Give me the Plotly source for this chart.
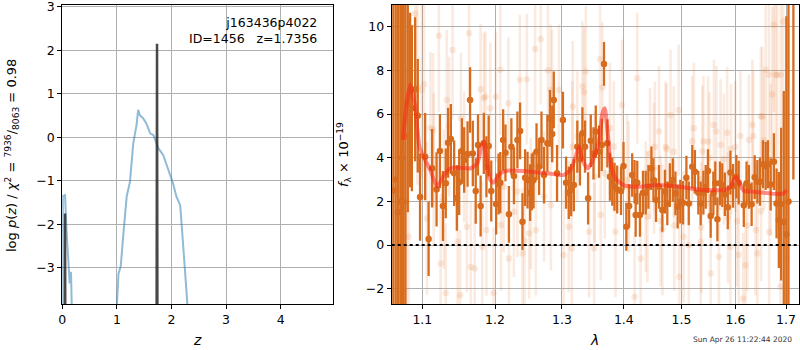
import plotly.graph_objects as go
import math

# ---------------- Left panel: log p(z) ----------------
pz_z = [0.0, 0.01, 0.05, 0.06, 0.08, 0.11, 0.12, 0.135, 0.14, 0.16, 0.18, None,
        0.995, 1.0, 1.03, 1.07, 1.12, 1.18, 1.24, 1.30, 1.36, 1.39, 1.42, 1.48, 1.54,
        1.61, 1.67, 1.70, 1.76, 1.85, 1.91, 1.97, 2.03, 2.09, 2.16, 2.19, 2.25, 2.31, 2.33]
pz_logp = [-5.0, -1.35, -1.33, -1.75, -2.2, -2.82, -3.13, -3.36, -3.1, -3.12, -4.3, None,
           -4.5, -3.85, -3.13, -2.97, -2.2, -1.36, -1.02, -0.14, 0.28, 0.63, 0.51, 0.44, 0.32,
           0.09, 0.05, -0.06, -0.25, -0.41, -0.64, -0.83, -1.06, -1.36, -1.56, -2.05, -2.97, -3.83, -4.5]

pzfine_z = [0.045, 0.05, 0.055, None, 1.728, 1.7356, 1.743]
pzfine_logp = [-4.5, -1.75, -4.5, None, -4.5, 2.15, -4.5]

zticks = [0, 1, 2, 3, 4]
logp_ticks = [-3, -2, -1, 0, 1, 2, 3]

# ---------------- Right panel: spectrum ----------------
dark_wave = [1.0625, 1.0655, 1.0685, 1.0715, 1.0735, 1.0755, 1.0780, 1.0810, 1.0840, 1.0863,
             1.0906, 1.0940, 1.0970, 1.1037, 1.1083, 1.1130, 1.1189, 1.1234, 1.1275, 1.1313,
             1.1344, 1.1382, 1.1427, 1.1464, 1.1496, 1.1533, 1.1565, 1.1612, 1.1647, 1.1685,
             1.1726, 1.1758, 1.1795, 1.1840, 1.1877, 1.1909, 1.1946, 1.2016, 1.2051, 1.2076,
             1.2117, 1.2151, 1.2201, 1.2237, 1.2275, 1.2326, 1.2365, 1.2401, 1.2440, 1.2476,
             1.2515, 1.2540, 1.2566, 1.2611, 1.2650, 1.2686, 1.2725, 1.2776, 1.2815, 1.2850,
             1.2874, 1.2925, 1.3016, 1.3065, 1.3107, 1.3145, 1.3187, 1.3242, 1.3284, 1.3323,
             1.3365, 1.3414, 1.3457, 1.3501, 1.3538, 1.3591, 1.3635, 1.3672, 1.3727, 1.3769,
             1.3808, 1.3845, 1.3889, 1.3953, 1.3995, 1.4042, 1.4089, 1.4141, 1.4181, 1.4200,
             1.4227, 1.4273, 1.4325, 1.4372, 1.4418, 1.4470, 1.4505, 1.4550, 1.4602, 1.4661,
             1.4707, 1.4748, 1.4793, 1.4845, 1.4892, 1.4932, 1.4979, 1.5028, 1.5089, 1.5132,
             1.5195, 1.5243, 1.5306, 1.5349, 1.5399, 1.5442, 1.5484, 1.5534, 1.5584, 1.5620,
             1.5659, 1.5707, 1.5751, 1.5800, 1.5855, 1.5905, 1.5955, 1.6018, 1.6063, 1.6162,
             1.6215, 1.6261, 1.6314, 1.6374, 1.6427, 1.6478, 1.6538, 1.6591, 1.6636, 1.6690,
             1.6755, 1.6808, 1.6854, 1.6901, 1.6954, 1.7006, 1.7050, 1.7150]
dark_flux = [2.5, 3.0, 1.5, 2.0, 4.0, 1.99, 5.0, 6.5, 6.65, 6.27,
             7.14, 5.93, 2.2, 4.05, 0.28, 3.52, 2.55, 4.31, 1.79, 2.83,
             4.69, 4.86, 3.29, 2.16, 2.88, 4.31, 3.9, 4.17, 6.65, 4.2,
             2.48, 4.59, 1.79, 4.66, 3.59, 4.54, 2.48, 1.88, 2.8, 2.86,
             4.82, 4.23, 1.41, 4.51, 3.17, 4.82, 5.23, 1.07, 3.09, 2.98,
             2.4, 2.9, 2.98, 4.28, 3.59, 4.82, 3.21, 4.66, 5.81, 5.09,
             6.65, 3.29, 5.73, 2.86, 2.4, 2.52, 2.75, 4.51, 3.93, 5.12,
             4.51, 2.14, 4.78, 4.2, 5.2, 4.28, 4.59, 8.3, 4.66, 3.13,
             2.9, 2.67, 2.55, 2.48, 3.62, 0.84, 1.79, 3.21, 2.9, 1.38,
             2.86, 1.38, 2.4, 2.4, 2.67, 3.52, 2.98, 2.06, 2.67, 1.61,
             2.45, 1.91, 2.75, 2.98, 2.37, 1.76, 1.99, 1.94, 3.09, 1.91,
             3.59, 3.36, 2.4, 1.91, 2.4, 2.67, 3.39, 1.33, 2.37, 2.83,
             1.18, 2.83, 2.75, 2.33, 1.73, 3.32, 2.71, 3.13, 2.86, 1.83,
             2.83, 2.67, 1.87, 3.11, 2.9, 2.9, 3.7, 3.62, 3.7, 2.78,
             3.82, 1.91, 1.15, 1.88, 1.06, 0.49, 2.0, 14.0]
dark_err = [25, 25, 25, 20, 18, 12, 8, 5, 4.0, 3.8,
            3.3, 2.6, 2.0, 2.0, 1.7, 1.8, 1.7, 1.7, 1.6, 1.6,
            1.6, 1.6, 1.5, 1.5, 1.5, 1.5, 1.5, 1.5, 1.5, 1.5,
            1.5, 1.4, 1.4, 1.4, 1.4, 1.4, 1.4, 1.4, 1.4, 1.4,
            1.4, 1.3, 1.3, 1.3, 1.3, 1.3, 1.3, 1.3, 1.3, 1.3,
            1.3, 1.3, 1.3, 1.3, 1.3, 1.3, 1.3, 1.3, 1.3, 1.3,
            1.3, 1.3, 1.3, 1.2, 1.2, 1.2, 1.2, 1.2, 1.2, 1.2,
            1.2, 1.2, 1.2, 1.2, 1.2, 1.2, 1.2, 1.0, 1.1, 1.1,
            1.1, 1.1, 1.1, 1.1, 1.1, 1.1, 1.0, 1.0, 1.0, 1.0,
            1.0, 1.0, 1.0, 1.0, 1.0, 1.0, 1.0, 1.0, 1.0, 1.0,
            1.0, 1.0, 1.0, 1.0, 1.0, 1.0, 1.0, 1.0, 1.0, 1.0,
            1.0, 1.0, 1.0, 1.0, 1.0, 1.0, 1.0, 1.0, 1.0, 1.0,
            1.0, 1.0, 1.0, 1.0, 1.0, 1.0, 1.0, 1.0, 1.0, 1.0,
            1.0, 1.0, 1.0, 1.0, 1.0, 1.1, 1.1, 1.1, 1.1, 1.2,
            1.3, 1.6, 2.2, 3.5, 6.0, 10.0, 20.0, 11.0]

light_wave = [1.0700, 1.0760, 1.0790, 1.0821, 1.0906, 1.0935, 1.0992, 1.1023, 1.1061, 1.1106,
              1.1143, 1.1151, 1.1220, 1.1244, 1.1289, 1.1313, 1.1326, 1.1358, 1.1405, 1.1474,
              1.1509, 1.1519, 1.1565, 1.1602, 1.1633, 1.1657, 1.1712, 1.1795, 1.1818, 1.1840,
              1.1863, 1.1877, 1.1932, 1.1978, 1.2012, 1.2076, 1.2087, 1.2126, 1.2192, 1.2201,
              1.2275, 1.2326, 1.2361, 1.2401, 1.2430, 1.2466, 1.2500, 1.2525, 1.2590, 1.2600,
              1.2675, 1.2725, 1.2784, 1.2825, 1.2830, 1.2850, 1.2955, 1.3026, 1.3107, 1.3155,
              1.3162, 1.3170, 1.3242, 1.3323, 1.3349, 1.3377, 1.3430, 1.3511, 1.3520, 1.3608,
              1.3619, 1.3646, 1.3684, 1.3769, 1.3834, 1.3861, 1.3969, 1.4054, 1.4082, 1.4181,
              1.4227, 1.4285, 1.4372, 1.4401, 1.4446, 1.4516, 1.4530, 1.4602, 1.4631, 1.4661,
              1.4719, 1.4735, 1.4805, 1.4862, 1.4870, 1.4950, 1.4962, 1.5039, 1.5132, 1.5195,
              1.5224, 1.5349, 1.5360, 1.5380, 1.5399, 1.5484, 1.5510, 1.5534, 1.5595, 1.5640,
              1.5688, 1.5720, 1.5781, 1.5844, 1.5860, 1.5905, 1.5915, 1.5998, 1.6032, 1.6063,
              1.6097, 1.6150, 1.6196, 1.6229, 1.6261, 1.6328, 1.6345, 1.6393, 1.6427, 1.6494,
              1.6500, 1.6526, 1.6557, 1.6591, 1.6656, 1.6660, 1.6690, 1.6723, 1.6755, 1.6788,
              1.6822, 1.6887, 1.6895, 1.6941, 1.7006]
light_flux = [5.0, 9.0, 2.0, 0.38, 10.6, 7.26, 7.1, 7.37, 1.22, 5.35,
              5.3, 3.44, 9.59, -0.84, 2.1, -2.2, 6.65, 5.43, 8.94, 0.15,
              -2.3, 5.81, 4.05, 0.84, 9.71, -1.0, -1.07, 7.14, -0.08, 6.73,
              6.8, 0.69, 6.27, -2.2, 6.8, 8.03, 0.92, 2.67, 6.5, -0.61,
              1.53, 2.45, 7.57, -0.38, 0.2, 7.6, 0.54, 1.91, 8.98, 0.69,
              9.44, 2.22, 8.0, 7.11, 1.83, 6.88, 7.11, -0.46, 0.84, -0.15,
              4.51, 6.35, 4.97, 7.26, 7.0, 7.95, 0.61, -0.15, 3.13, 8.52,
              1.38, 7.22, 3.29, 5.35, 4.51, 0.61, 6.42, 2.98, 2.67, -2.37,
              7.64, -0.61, 1.76, 1.3, 4.2, 3.52, 4.5, 5.2, 1.1, 0.69,
              4.51, 4.4, 5.96, 4.28, 0.9, 6.19, -1.45, 0.38, 0.0, 4.76,
              5.35, 0.15, 0.8, 4.3, 4.74, 4.74, 4.0, -1.3, 5.5, 5.2,
              -0.54, 4.6, 3.93, 5.15, 1.25, -0.08, 4.4, 4.51, 1.1, -0.46,
              5.0, -2.45, -0.92, 0.9, 4.82, 5.5, 5.0, 0.69, -0.38, 5.9,
              1.55, 5.89, 4.8, 8.03, 7.8, 0.6, 3.9, 6.9, 10.1, 7.8,
              7.8, -1.91, 7.8, 10.24, -0.54]
light_err = [9, 7, 6, 5, 5, 4.5, 4, 4, 3.5, 3.5,
             3.5, 3.5, 3.5, 3.2, 3.2, 3.2, 3.2, 3.2, 3.2, 3,
             3, 3, 3, 3, 3, 3, 3, 3, 3, 3,
             3, 3, 3, 3, 3, 3, 3, 3, 3, 3,
             3, 3, 3, 3, 3, 3, 3, 3, 3, 3,
             3, 3, 3, 3, 3, 3, 3, 3, 3, 3,
             3, 3, 3, 3, 3, 3, 3, 3, 3, 3,
             3, 3, 3, 3, 3, 3, 3, 3, 3, 3,
             3, 3, 3, 3, 3, 3, 3, 3, 3, 3,
             3, 3, 3, 3, 3, 3, 3, 3, 3, 3,
             3, 3, 3, 3, 3, 3, 3, 3, 3, 3,
             3, 3, 3, 3, 3, 3, 3, 3, 3, 3,
             3, 3, 3, 3, 3, 3, 3, 3, 3, 3.2,
             3.2, 3.2, 3.2, 3.5, 3.5, 3.5, 3.5, 4, 4, 4,
             4.5, 5, 5, 6, 8]

model_wave = [1.0747, 1.0800, 1.0840, 1.0906, 1.0961, 1.1014, 1.1106, 1.1198, 1.1289, 1.1381,
              1.1474, 1.1657, 1.1749, 1.1804, 1.1840, 1.1887, 1.1932, 1.1978, 1.2076, 1.2176,
              1.2525, 1.2775, 1.3026, 1.3134, 1.3215, 1.3268, 1.3323, 1.3404, 1.3469, 1.3538,
              1.3592, 1.3646, 1.3684, 1.3727, 1.3781, 1.3861, 1.3995, 1.4227, 1.4574, 1.4979,
              1.5288, 1.5781, 1.5905, 1.5985, 1.6018, 1.6063, 1.6162, 1.6294, 1.6557, 1.6822,
              1.6953, 1.7006]
model_flux = [4.82, 6.6, 7.34, 6.35, 4.51, 4.05, 3.44, 2.67, 3.21, 3.52,
              3.55, 3.52, 3.75, 4.51, 4.74, 3.75, 2.98, 2.86, 3.29, 3.41,
              3.36, 3.29, 3.21, 3.44, 4.05, 4.51, 3.9, 3.52, 3.75, 4.28,
              4.82, 6.04, 6.27, 5.28, 3.75, 3.06, 2.75, 2.67, 2.75, 2.67,
              2.55, 2.52, 2.67, 3.05, 3.12, 2.9, 2.49, 2.45, 2.4, 2.34,
              2.37, 2.52]

wave_ticks = [1.1, 1.2, 1.3, 1.4, 1.5, 1.6, 1.7]
flux_ticks = [-2, 0, 2, 4, 6, 8, 10]

# ---------------- Figure ----------------
W, H = 800, 350
FONT = "DejaVu Sans"
DARK = "rgb(216,108,30)"
LIGHT = "rgba(232,125,55,0.16)"

fig = go.Figure()

# left panel
fig.add_trace(go.Scatter(x=pz_z, y=pz_logp, mode="lines", xaxis="x", yaxis="y",
                         line=dict(color="rgba(31,119,180,0.5)", width=2),
                         connectgaps=False, showlegend=False, hoverinfo="skip"))
fig.add_trace(go.Scatter(x=pzfine_z, y=pzfine_logp, mode="lines", xaxis="x", yaxis="y",
                         line=dict(color="rgba(40,40,40,0.85)", width=2.5),
                         connectgaps=False, showlegend=False, hoverinfo="skip"))

# right panel
fig.add_trace(go.Scatter(x=light_wave, y=light_flux, mode="markers", xaxis="x2", yaxis="y2",
                         marker=dict(color=LIGHT, size=6.5, line=dict(width=0)),
                         error_y=dict(type="data", array=light_err, visible=True,
                                      color=LIGHT, thickness=2.6, width=0),
                         showlegend=False, hoverinfo="skip"))
fig.add_trace(go.Scatter(x=dark_wave, y=dark_flux, mode="markers", xaxis="x2", yaxis="y2",
                         marker=dict(color=DARK, size=6.5, line=dict(width=0)),
                         error_y=dict(type="data", array=dark_err, visible=True,
                                      color=DARK, thickness=2.3, width=0),
                         showlegend=False, hoverinfo="skip"))
fig.add_trace(go.Scatter(x=model_wave, y=model_flux, mode="lines", xaxis="x2", yaxis="y2",
                         line=dict(color="rgba(255,30,20,0.5)", width=4, shape="spline", smoothing=0.6),
                         showlegend=False, hoverinfo="skip"))

fig.add_shape(type="line", xref="x2 domain", yref="y2", x0=0, x1=1, y0=0, y1=0,
              line=dict(color="black", width=2, dash="dot"), layer="above")

def px2x(p):
    return p / W

def px2y(p):
    return 1 - p / H

axis_common = dict(showline=True, linecolor="black", linewidth=1, mirror=True,
                   ticks="outside", ticklen=4, tickcolor="black", tickwidth=1,
                   showgrid=True, gridcolor="#b0b0b0", gridwidth=1, zeroline=False,
                   ticklabeloverflow="allow",
                   tickfont=dict(family=FONT, size=12.5, color="black"), automargin=False)

fig.update_layout(
    width=W, height=H, margin=dict(l=0, r=0, t=0, b=0),
    paper_bgcolor="white", plot_bgcolor="white",
    font=dict(family=FONT, color="black"),
    xaxis=dict(domain=[px2x(62.3), px2x(333)], range=[0, 4.96], tickvals=zticks,
               anchor="y", **axis_common),
    yaxis=dict(domain=[px2y(304), px2y(5)], range=[-3.83, 3.04], tickvals=logp_ticks,
               ticktext=[("−" + str(abs(v))) if v < 0 else str(v) for v in logp_ticks],
               anchor="x", **axis_common),
    xaxis2=dict(domain=[px2x(391.7), px2x(799.3)], type="log",
                range=[math.log10(1.0604), math.log10(1.7272)], tickvals=wave_ticks,
                ticktext=[f"{v:.1f}" for v in wave_ticks], anchor="y2", **axis_common),
    yaxis2=dict(domain=[px2y(304), px2y(5)], range=[-2.7, 11.0], tickvals=flux_ticks,
                ticktext=[("−" + str(abs(v))) if v < 0 else str(v) for v in flux_ticks],
                anchor="x2", **axis_common),
)

ann = [
    dict(text="j163436p4022<br>ID=1456&nbsp;&nbsp;&nbsp;z=1.7356", x=px2x(319), y=px2y(13),
         xanchor="right", yanchor="top", align="right", font=dict(size=12.5)),
    dict(text="log <i>p</i>(<i>z</i>) / <i>χ</i><sup>2</sup> = <sup>7936</sup>/<sub>8063</sub> = 0.98",
         x=px2x(12), y=px2y(156), textangle=-90, xanchor="center", yanchor="middle",
         font=dict(size=13)),
    dict(text="<i>f</i><sub>λ</sub> × 10<sup>−19</sup>", x=px2x(344), y=px2y(155),
         textangle=-90, xanchor="center", yanchor="middle", font=dict(size=13)),
    dict(text="<i>z</i>", x=px2x(197), y=px2y(340), xanchor="center", yanchor="middle",
         font=dict(size=14)),
    dict(text="<i>λ</i>", x=px2x(594), y=px2y(340), xanchor="center", yanchor="middle",
         font=dict(size=14)),
    dict(text="Sun Apr 26 11:22:44 2020", x=px2x(742), y=px2y(339), xanchor="center",
         yanchor="middle", font=dict(size=7.5, color="#333333")),
]
for a in ann:
    a.update(xref="paper", yref="paper", showarrow=False)
    a.setdefault("font", {})
    a["font"]["family"] = FONT
fig.update_layout(annotations=ann)

fig.write_html("out.html", config={"displayModeBar": False},
               post_script="document.body.style.margin='0';document.body.style.overflow='hidden';")
